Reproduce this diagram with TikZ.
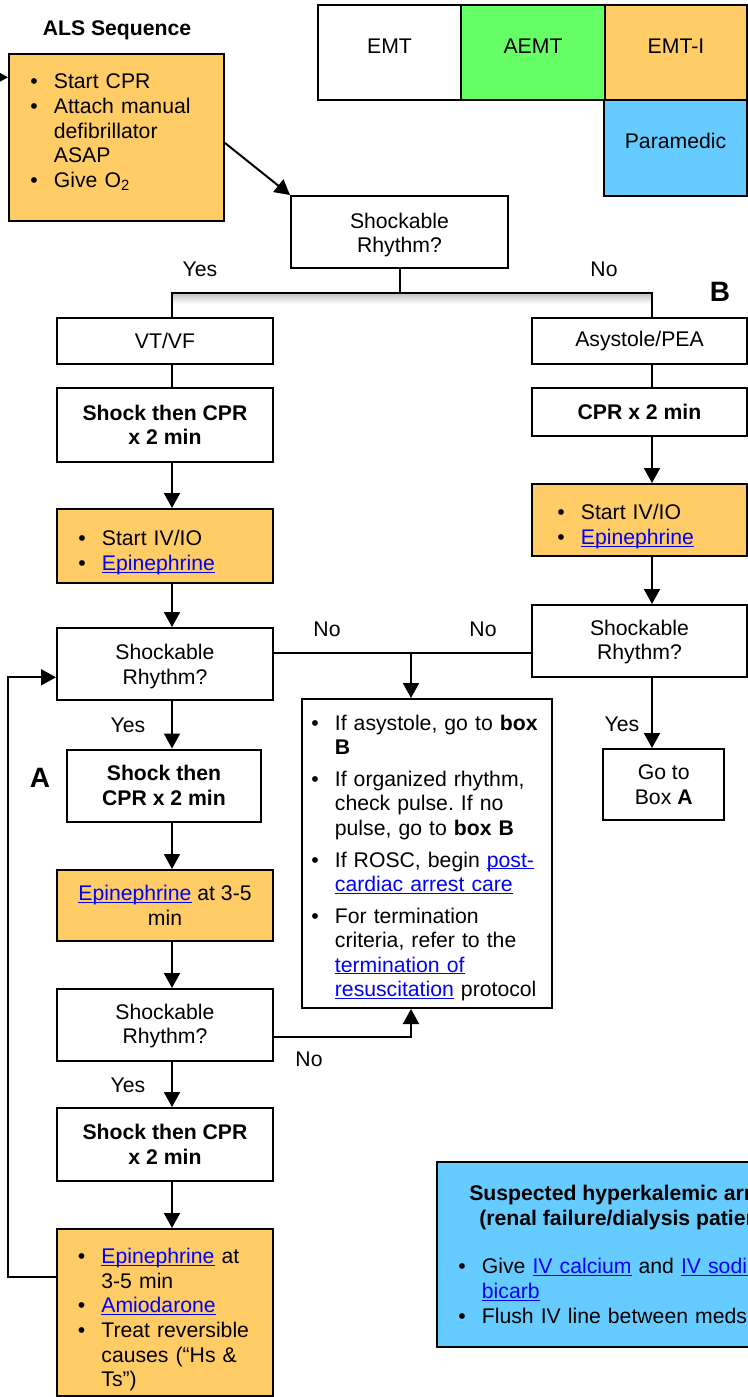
\documentclass[tikz,border=0pt]{standalone}
\usepackage{fontspec}
\setmainfont{Liberation Sans}
\usetikzlibrary{arrows.meta}
\frenchspacing
\definecolor{orgc}{HTML}{FFCC66}
\definecolor{grnc}{HTML}{66FF66}
\definecolor{bluc}{HTML}{66CCFF}
\definecolor{lnkc}{HTML}{0000FF}
\newlength\bind \setlength\bind{11.75pt}
\newcommand\lnk[1]{\leavevmode{\color{lnkc}\setbox0=\hbox{#1}\rlap{\rule[-1.1pt]{\wd0}{0.5pt}}\box0}}
\newcommand\bi[1]{\par\hangindent=\bind\hangafter=1\noindent\makebox[\bind][l]{•}#1\par}
\newcommand\nl{\newline}
\newcommand\nfs{\fontsize{10.6pt}{12.3pt}\selectfont}
\newcommand\bigletter{\fontsize{14pt}{16pt}\selectfont\bfseries}
\newcommand\sh[2]{\raisebox{#1}[\height][\depth]{\begin{tabular}{@{}c@{}}#2\end{tabular}}}
\begin{document}
\begin{tikzpicture}[x=0.5pt,y=-0.5pt,font=\nfs,
  bx/.style={draw=black,line width=1pt,inner sep=0pt,align=center,fill=white},
  txt/.style={inner sep=0pt,align=left,text width=#1,anchor=west},
  lbl/.style={inner sep=0pt},
  ln/.style={line width=1pt},
  arr/.style={line width=1pt,-{Triangle[length=7.5pt,width=8pt]}}]
\useasboundingbox (0,0) rectangle (748,1397);
\clip (0,0) rectangle (748,1397);
\fill[white] (0,0) rectangle (748,1397);
% column coordinates
\coordinate (cL) at (172,0);
\coordinate (cR) at (652,0);
\coordinate (cM) at (411,0);
% top row
\node[lbl] (alst) at (117,30) {\bfseries ALS Sequence};
\node[bx,fill=orgc,minimum width=107.5pt,minimum height=83.5pt] (als) at (116.5,137.5) {};
\node[txt=95pt] (alstx) at (30,127.5) {\bi{Start CPR}\bi{Attach manual\nl defibrillator\nl ASAP}\bi{Give O\textsubscript{2}}};
\node[bx,minimum width=71.5pt,minimum height=47.5pt] (emt) at (389.5,52.5) {\sh{2pt}{EMT}};
\node[bx,fill=grnc,minimum width=72pt,minimum height=47.5pt] (aemt) at (533,52.5) {\sh{2pt}{AEMT}};
\node[bx,fill=orgc,minimum width=71pt,minimum height=47.5pt] (emti) at (676,52.5) {\sh{2pt}{EMT-I}};
\node[bx,fill=bluc,minimum width=71.5pt,minimum height=48pt] (para) at (675.5,148) {\sh{2pt}{Paramedic}};
\coordinate (in0) at (-20,77.3);
\draw[arr] (in0) -- (als.west |- in0);
% first decision
\node[bx,minimum width=108.5pt,minimum height=36pt] (sr1) at (399.5,232) {\sh{-1.8pt}{Shockable\\Rhythm?}};
\draw[arr] ([yshift=-2.75pt]als.east) -- (sr1.north west);
\node[lbl] (y1) at (200,269) {Yes};
\node[lbl] (n1) at (604,269) {No};
\node[lbl] (bB) at (720,292) {\bigletter B};
\node[bx,minimum width=108pt,minimum height=23pt] (vtvf) at (165,341) {VT/VF};
\node[bx,minimum width=107.5pt,minimum height=23pt] (asys) at (639.5,341) {Asystole/PEA};
\coordinate (j1) at (399.5,293);
\shade[top color=black!22,bottom color=white] (172,294) rectangle (652,304);
\draw[ln] (sr1.south) -- (j1);
\draw[ln] (vtvf.north -| cL) |- (j1) -| (asys.north -| cR);
% left column
\node[bx,minimum width=108pt,minimum height=37pt] (shk1) at (165,425) {\bfseries Shock then CPR\\\bfseries x 2 min};
\draw[ln] (vtvf.south -| cL) -- (shk1.north -| cL);
\node[bx,fill=orgc,minimum width=108pt,minimum height=37pt] (ivl) at (165,546) {};
\node[txt=90pt] (ivlt) at (78,548) {\bi{Start IV/IO}\bi{\lnk{Epinephrine}}};
\draw[arr] (shk1.south -| cL) -- (ivl.north -| cL);
\node[bx,minimum width=108pt,minimum height=36pt] (sr2) at (165,664) {\sh{-1.5pt}{Shockable\\Rhythm?}};
\draw[arr] (ivl.south -| cL) -- (sr2.north -| cL);
\node[bx,minimum width=97pt,minimum height=36pt] (shk2) at (164,785.5) {\bfseries Shock then\\\bfseries CPR x 2 min};
\draw[arr] (sr2.south -| cL) -- (shk2.north -| cL);
\node[lbl] (y2) at (128,725) {Yes};
\node[lbl] (bA) at (40,778) {\bigletter A};
\node[bx,fill=orgc,minimum width=108pt,minimum height=35.5pt] (epi) at (165,905.5) {\lnk{Epinephrine} at 3-5\\min};
\draw[arr] (shk2.south -| cL) -- (epi.north -| cL);
\node[bx,minimum width=108pt,minimum height=36pt] (sr3) at (165,1025) {\sh{-0.8pt}{Shockable\\Rhythm?}};
\draw[arr] (epi.south -| cL) -- (sr3.north -| cL);
\node[bx,minimum width=108pt,minimum height=36.5pt] (shk3) at (165,1144.5) {\bfseries Shock then CPR\\\bfseries x 2 min};
\draw[arr] (sr3.south -| cL) -- (shk3.north -| cL);
\node[lbl] (y3) at (128,1085) {Yes};
\node[bx,fill=orgc,minimum width=108pt,minimum height=83.5pt] (fin) at (165,1312.5) {};
\node[txt=90pt] (fint) at (77.5,1315) {\bi{\lnk{Epinephrine} at\nl 3-5 min}\bi{\lnk{Amiodarone}}\bi{Treat reversible\nl causes (“Hs \&\nl Ts”)}};
\draw[arr] (shk3.south -| cL) -- (fin.north -| cL);
\coordinate (lo1) at (0,1276.7);
\coordinate (li1) at (0,677.3);
\coordinate (lp) at (8,0);
\draw[arr] (fin.west |- lo1) -- (lp |- lo1) -- (lp |- li1) -- (sr2.west |- li1);
% right column
\node[bx,minimum width=107.5pt,minimum height=24pt] (cpr) at (639.5,412) {\bfseries CPR x 2 min};
\draw[ln] (asys.south -| cR) -- (cpr.north -| cR);
\node[bx,fill=orgc,minimum width=107.5pt,minimum height=36pt] (ivr) at (639.5,520) {};
\node[txt=90pt] (ivrt) at (557,522) {\bi{Start IV/IO}\bi{\lnk{Epinephrine}}};
\draw[arr] (cpr.south -| cR) -- (ivr.north -| cR);
\node[bx,minimum width=107.5pt,minimum height=36pt] (sr4) at (639.5,641) {\sh{-0.8pt}{Shockable\\Rhythm?}};
\draw[arr] (ivr.south -| cR) -- (sr4.north -| cR);
\node[bx,minimum width=60.3pt,minimum height=35.5pt] (gta) at (663.7,784.5) {Go to\\Box \textbf{A}};
\draw[arr] (sr4.south -| cR) -- (gta.north -| cR);
\node[lbl] (y4) at (622,724) {Yes};
% middle box
\node[bx,minimum width=125pt,minimum height=154.5pt] (mid) at (427,853.5) {};
\node[txt=118pt,font=\fontsize{10.6pt}{12.15pt}\selectfont] (midt) at (311,853.4) {\bi{If asystole, go to \textbf{box}\nl\textbf{B}}\vspace{3.85pt}\bi{If organized rhythm,\nl check pulse. If no\nl pulse, go to \textbf{box B}}\vspace{3.85pt}\bi{If ROSC, begin \lnk{post-}\nl\lnk{cardiac arrest care}}\vspace{3.85pt}\bi{For termination\nl criteria, refer to the\nl\lnk{termination of}\nl\lnk{resuscitation} protocol}};
\coordinate (hy) at (0,652.5);
\draw[ln] (sr2.east |- hy) -- (sr4.west |- hy);
\draw[arr] (cM |- hy) -- (mid.north -| cM);
\node[lbl] (n2) at (327,629) {No};
\node[lbl] (n3) at (483,629) {No};
\coordinate (hz) at (0,1036.7);
\draw[arr] (sr3.east |- hz) -| (mid.south -| cM);
\node[lbl] (n4) at (309,1059) {No};
% hyperkalemic box
\node[bx,fill=bluc,minimum width=231.5pt,minimum height=92.8pt] (hyp) at (668.5,1254.5) {};
\node[lbl,align=center] (hypt) at (626,1207.5) {\bfseries Suspected hyperkalemic arrest\\\bfseries (renal failure/dialysis patient)};
\node[txt=200pt] (hypb) at (458,1286.3) {\bi{Give \lnk{IV calcium} and \lnk{IV sodium}\nl\lnk{bicarb}}\bi{Flush IV line between meds}};
\end{tikzpicture}
\end{document}
